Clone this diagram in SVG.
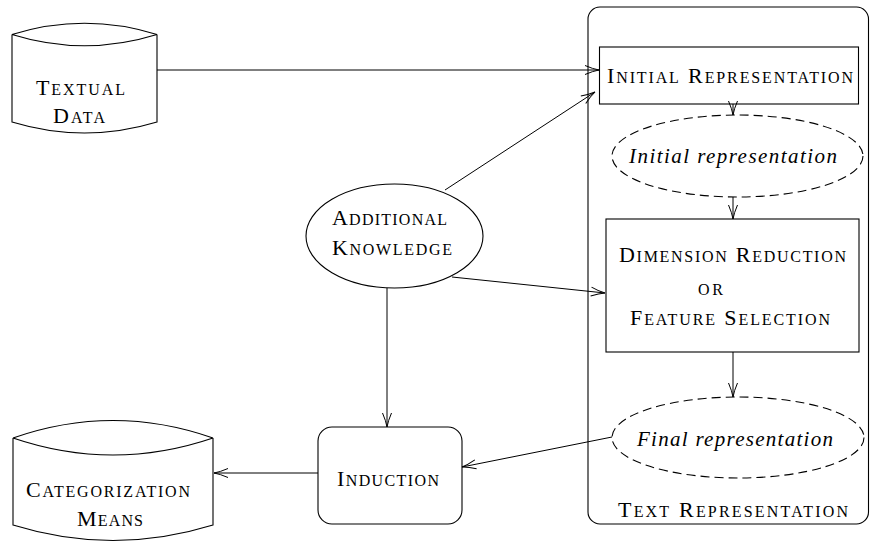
<svg xmlns="http://www.w3.org/2000/svg" width="870" height="542" viewBox="0 0 870 542">
<defs>
<marker id="arr" markerUnits="userSpaceOnUse" viewBox="-16 -7 18 14" markerWidth="18" markerHeight="14" refX="0" refY="0" orient="auto" overflow="visible">
<path d="M-14,-4.5 Q-6,-1 0,0 Q-6,1 -14,4.5" fill="none" stroke="#000" stroke-width="1"/>
</marker>
</defs>
<style>
.s{fill:none;stroke:#000;stroke-width:1.1}
.d{fill:none;stroke:#000;stroke-width:1.1;stroke-dasharray:9 5}
.t{font-family:'Liberation Serif','Times New Roman',serif;font-size:22px;fill:#000}
.i{font-style:italic;font-size:21px}
.sc{font-size:16px}
.c{stroke:#000;stroke-width:1;fill:none;marker-end:url(#arr)}
</style>
<rect x="0" y="0" width="870" height="542" fill="#fff"/>

<g id="textual-data">
<path class="s" d="M12,34.5 Q84.5,12 157,34.5 M12,34.5 Q84.5,57 157,34.5 M12,34.5 L12,122 Q84.5,144 157,122 L157,34.5"/>
<text class="t" font-family="Liberation Serif" x="36" y="95" textLength="89" lengthAdjust="spacing">T<tspan class="sc">EXTUAL</tspan></text>
<text class="t" font-family="Liberation Serif" x="53" y="123" textLength="52" lengthAdjust="spacing">D<tspan class="sc">ATA</tspan></text>
</g>

<g id="text-representation">
<rect class="s" x="588" y="7" width="280.5" height="517" rx="12"/>
<text class="t" font-family="Liberation Serif" x="618" y="517" textLength="230" lengthAdjust="spacing">T<tspan class="sc">EXT</tspan> R<tspan class="sc">EPRESENTATION</tspan></text>
</g>

<g id="initial-representation-box">
<rect class="s" x="599.5" y="47" width="259" height="57"/>
<text class="t" font-family="Liberation Serif" x="607" y="83" textLength="246" lengthAdjust="spacing">I<tspan class="sc">NITIAL</tspan> R<tspan class="sc">EPRESENTATION</tspan></text>
</g>

<g id="initial-representation-data">
<ellipse class="d" cx="737.5" cy="156" rx="125.5" ry="41"/>
<text class="t i" font-family="Liberation Serif" x="629" y="163" textLength="208" lengthAdjust="spacing">Initial representation</text>
</g>

<g id="dimension-reduction">
<rect class="s" x="606" y="219" width="253" height="133"/>
<text class="t" font-family="Liberation Serif" x="619" y="262" textLength="227" lengthAdjust="spacing">D<tspan class="sc">IMENSION</tspan> R<tspan class="sc">EDUCTION</tspan></text>
<text class="t sc" font-family="Liberation Serif" x="698" y="295" textLength="25" lengthAdjust="spacing">OR</text>
<text class="t" font-family="Liberation Serif" x="630" y="325" textLength="200" lengthAdjust="spacing">F<tspan class="sc">EATURE</tspan> S<tspan class="sc">ELECTION</tspan></text>
</g>

<g id="final-representation">
<ellipse class="d" cx="738" cy="437.5" rx="126" ry="40.5"/>
<text class="t i" font-family="Liberation Serif" x="637" y="446" textLength="196" lengthAdjust="spacing">Final representation</text>
</g>

<g id="additional-knowledge">
<ellipse class="s" cx="394.5" cy="236" rx="88.5" ry="52"/>
<text class="t" font-family="Liberation Serif" x="332" y="225" textLength="115" lengthAdjust="spacing">A<tspan class="sc">DDITIONAL</tspan></text>
<text class="t" font-family="Liberation Serif" x="332" y="255" textLength="120" lengthAdjust="spacing">K<tspan class="sc">NOWLEDGE</tspan></text>
</g>

<g id="induction">
<rect class="s" x="318" y="427" width="144" height="97" rx="14"/>
<text class="t" font-family="Liberation Serif" x="337" y="486" textLength="102" lengthAdjust="spacing">I<tspan class="sc">NDUCTION</tspan></text>
</g>

<g id="categorization-means">
<path class="s" d="M13,438 Q113,403 213,438 M13,438 Q113,472 213,438 M13,438 L13,525 Q113,556 213,525 L213,438"/>
<text class="t" font-family="Liberation Serif" x="26" y="497" textLength="164" lengthAdjust="spacing">C<tspan class="sc">ATEGORIZATION</tspan></text>
<text class="t" font-family="Liberation Serif" x="77" y="526" textLength="66" lengthAdjust="spacing">M<tspan class="sc">EANS</tspan></text>
</g>

<g id="connectors">
<line class="c" x1="157" y1="70" x2="599" y2="70"/>
<line class="c" x1="445" y1="190" x2="595" y2="92"/>
<line class="c" x1="452" y1="277" x2="605" y2="293"/>
<line class="c" x1="387" y1="288" x2="387" y2="427"/>
<line class="c" x1="733" y1="104" x2="733" y2="115"/>
<line class="c" x1="733" y1="197" x2="733" y2="219"/>
<line class="c" x1="733" y1="352" x2="733" y2="397"/>
<line class="c" x1="612" y1="437" x2="462" y2="467"/>
<line class="c" x1="318" y1="473" x2="214" y2="473"/>
</g>
</svg>
